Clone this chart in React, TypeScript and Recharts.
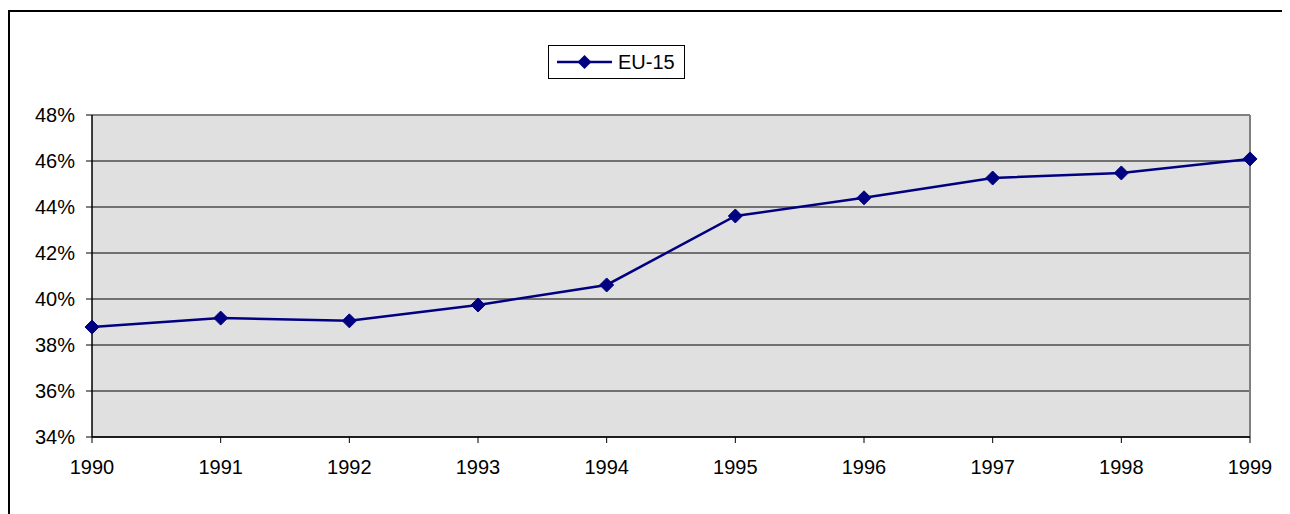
import { LineChart, Line, XAxis, YAxis, CartesianGrid, ReferenceLine } from 'recharts'

const years = ['1990', '1991', '1992', '1993', '1994', '1995', '1996', '1997', '1998', '1999']
const eu15 = [0.3878, 0.3917, 0.3905, 0.3974, 0.4061, 0.4361, 0.4440, 0.4526, 0.4548, 0.4609]
const yTicks = [0.34, 0.36, 0.38, 0.40, 0.42, 0.44, 0.46, 0.48]

const NAVY = '#000080'
const FONT = '"Liberation Sans", Arial, sans-serif'

const data = years.map((year, i) => ({ year, eu15: eu15[i] }))

// diamond marker, positioned by the line's own scale
function Diamond(props: any) {
  const { cx, cy } = props
  if (cx == null || cy == null) return null
  const r = 7
  return (
    <polygon
      points={`${cx},${cy - r} ${cx + r},${cy} ${cx},${cy + r} ${cx - r},${cy}`}
      fill={NAVY}
      stroke={NAVY}
    />
  )
}

function LegendBox() {
  return (
    <div
      style={{
        position: 'absolute',
        top: 33,
        left: 538,
        width: 135,
        height: 32,
        border: '1px solid #000',
        background: '#fff',
        display: 'flex',
        alignItems: 'center',
        fontFamily: FONT,
        fontSize: 20,
        color: '#000'
      }}
    >
      <svg width={62} height={20} style={{ marginLeft: 6 }}>
        <line x1={2} y1={10} x2={57} y2={10} stroke={NAVY} strokeWidth={2.5} />
        <polygon points="29.5,3 36.5,10 29.5,17 22.5,10" fill={NAVY} />
      </svg>
      <span style={{ marginLeft: 1 }}>EU-15</span>
    </div>
  )
}

const tickStyle = { fontSize: 20, fill: '#000', fontFamily: FONT }

export default function App() {
  return (
    <div
      style={{
        position: 'relative',
        marginTop: 2,
        borderTop: '2px solid #000',
        borderLeft: '2px solid #000',
        width: 1282,
        height: 504,
        fontFamily: FONT
      }}
    >
      <LineChart
        width={1280}
        height={502}
        data={data}
        margin={{ top: 103, right: 40, left: 0, bottom: 37 }}
      >
        <CartesianGrid fill="#E0E0E0" vertical={false} stroke="#000" strokeOpacity={1} />
        <XAxis
          dataKey="year"
          height={40}
          axisLine={{ stroke: '#000', strokeWidth: 1.5 }}
          tickLine={{ stroke: '#000' }}
          tickSize={6}
          tickMargin={17}
          fontSize={20}
          tick={tickStyle}
          interval={0}
        />
        <YAxis
          width={82}
          domain={[0.34, 0.48]}
          ticks={yTicks}
          tickFormatter={(v: number) => `${Math.round(v * 100)}%`}
          axisLine={{ stroke: '#000', strokeWidth: 1.5 }}
          tickLine={{ stroke: '#000' }}
          tickSize={6}
          tickMargin={11}
          fontSize={20}
          tick={tickStyle}
          allowDataOverflow
        />
        <ReferenceLine y={0.48} stroke="#808080" strokeWidth={2} />
        <ReferenceLine x="1999" stroke="#808080" strokeWidth={2} />
        <Line
          type="linear"
          dataKey="eu15"
          name="EU-15"
          stroke={NAVY}
          strokeWidth={2.5}
          dot={<Diamond />}
          activeDot={false}
          isAnimationActive={false}
        />
      </LineChart>
      <LegendBox />
    </div>
  )
}
